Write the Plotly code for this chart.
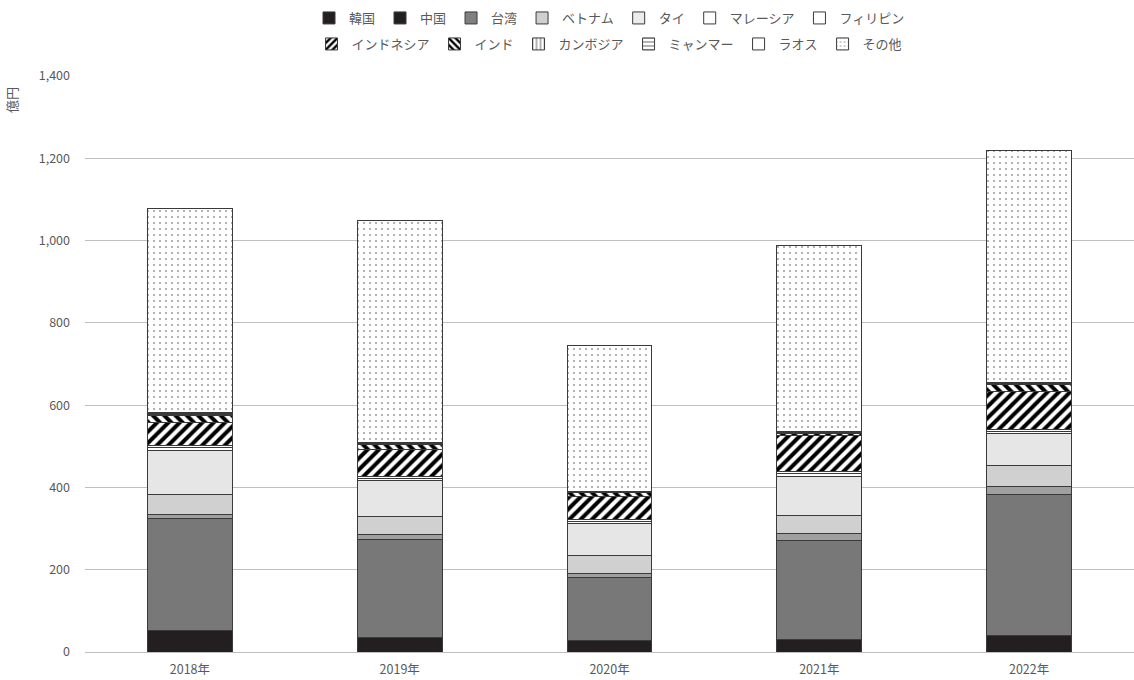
import plotly.graph_objects as go

years = ["2018年", "2019年", "2020年", "2021年", "2022年"]

korea = [52, 36, 28, 31, 40]
china = [273, 238, 154, 241, 343]
taiwan = [10, 11, 10, 15, 20]
vietnam = [49, 45, 42, 44, 50]
thailand = [106, 87, 78, 96, 79]
malaysia = [8, 5, 6, 6, 5]
philippines = [5, 4, 4, 5, 3]
indonesia = [56, 67, 55, 88, 94]
india = [17, 12, 10, 6, 16]
cambodia = [2, 2, 1, 2, 2]
myanmar = [2, 2, 1, 1, 1]
laos = [1, 1, 1, 1, 1]
others = [497, 540, 356, 451, 566]

INK = "#000000"
hatch_fw = dict(shape="/", fgcolor=INK, bgcolor="#ffffff", fgopacity=1, size=8, solidity=0.5, fillmode="replace")
hatch_bw = dict(shape="\\", fgcolor=INK, bgcolor="#ffffff", fgopacity=1, size=8, solidity=0.5, fillmode="replace")

# (name, values, bar marker, legend swatch marker)
series = [
    ("韓国", korea, dict(color="#231f20"), dict(color="#231f20")),
    ("中国", china, dict(color="#787878"), dict(color="#231f20")),
    ("台湾", taiwan, dict(color="#a0a0a0"), dict(color="#808080")),
    ("ベトナム", vietnam, dict(color="#d0d0d0"), dict(color="#d0d0d0")),
    ("タイ", thailand, dict(color="#e6e6e6"), dict(color="#ececec")),
    ("マレーシア", malaysia, dict(color="#ffffff"), dict(color="#ffffff")),
    ("フィリピン", philippines, dict(color="#ffffff"), dict(color="#ffffff")),
    ("インドネシア", indonesia, dict(color="#ffffff", pattern=hatch_fw),
     dict(color="#ffffff", pattern=dict(hatch_fw, size=6))),
    ("インド", india, dict(color="#ffffff", pattern=hatch_bw),
     dict(color="#ffffff", pattern=dict(hatch_bw, size=6))),
    ("カンボジア", cambodia,
     dict(color="#ffffff", pattern=dict(shape="|", fgcolor=INK, bgcolor="#ffffff", size=5, solidity=0.3)),
     dict(color="#ffffff", pattern=dict(shape="|", fgcolor=INK, bgcolor="#ffffff", size=5, solidity=0.3))),
    ("ミャンマー", myanmar,
     dict(color="#ffffff", pattern=dict(shape="-", fgcolor=INK, bgcolor="#ffffff", size=5, solidity=0.3)),
     dict(color="#ffffff", pattern=dict(shape="-", fgcolor=INK, bgcolor="#ffffff", size=5, solidity=0.3))),
    ("ラオス", laos, dict(color="#ffffff"), dict(color="#ffffff")),
    ("その他", others,
     dict(color="#ffffff", pattern=dict(shape=".", fgcolor="#404040", bgcolor="#ffffff", size=6, solidity=0.1)),
     dict(color="#ffffff", pattern=dict(shape=".", fgcolor="#404040", bgcolor="#ffffff", size=5, solidity=0.15))),
]

fig = go.Figure()
for i, (name, vals, mk, lmk) in enumerate(series):
    marker = dict(mk)
    marker["line"] = dict(color="#3a3a3a", width=1)
    fig.add_trace(go.Bar(x=years, y=vals, name=name, marker=marker, showlegend=False))
for i, (name, vals, mk, lmk) in enumerate(series):
    lmarker = dict(lmk)
    lmarker["line"] = dict(color="#3a3a3a", width=1)
    fig.add_trace(go.Bar(
        x=[years[0]], y=[None], name=name, marker=lmarker, hoverinfo="skip",
        legend="legend" if i < 7 else "legend2",
    ))

font_family = "Noto Sans CJK JP, Noto Sans, sans-serif"
legend_common = dict(
    orientation="h", xref="paper", x=0.5, xanchor="center",
    yref="container", yanchor="middle",
    font=dict(size=13, color="#595959", family=font_family),
    bgcolor="rgba(0,0,0,0)", itemwidth=30, traceorder="normal",
    tracegroupgap=0,
)

fig.update_layout(
    barmode="stack",
    bargap=0.595,
    width=1134, height=680,
    margin=dict(l=85, r=0, t=76, b=28),
    plot_bgcolor="white", paper_bgcolor="white",
    font=dict(family=font_family, size=12, color="#595959"),
    legend=dict(legend_common, y=1 - 18 / 680),
    legend2=dict(legend_common, y=1 - 44 / 680),
    xaxis=dict(showgrid=False, showline=True, linecolor="#bfbfbf", linewidth=1,
               ticks="", ticklabelstandoff=6, tickfont=dict(size=12.5, color="#595959")),
    yaxis=dict(range=[0, 1400], dtick=200, tickformat=",d", showgrid=True,
               gridcolor="#bfbfbf", gridwidth=1, zeroline=False, showline=False,
               ticks="", ticklabelstandoff=14, tickfont=dict(size=12.5, color="#595959")),
    annotations=[dict(text="億円", textangle=-90, xref="paper", yref="paper",
                      x=(12 - 85) / 1049, y=(652 - 100) / 576, showarrow=False,
                      xanchor="center", yanchor="middle",
                      font=dict(size=13, color="#595959"))],
)

fig.write_html("out.html")
